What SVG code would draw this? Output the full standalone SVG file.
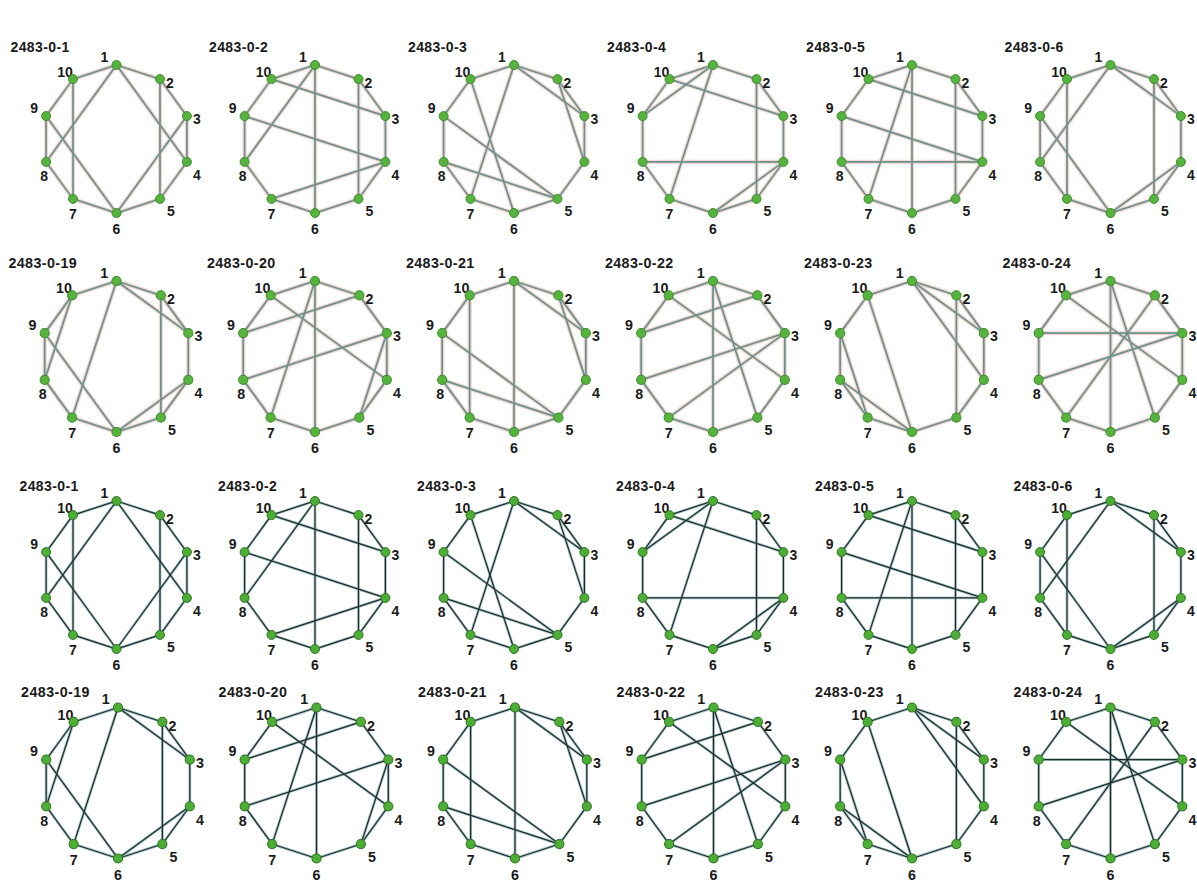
<svg xmlns="http://www.w3.org/2000/svg" xmlns:xlink="http://www.w3.org/1999/xlink" width="1197" height="884" viewBox="0 0 1197 884">
<style>
.tt{font:bold 14px "Liberation Sans",Arial,sans-serif;letter-spacing:.4px;fill:#1a1a1a}
.nd text{font:bold 14px "Liberation Sans",Arial,sans-serif;text-anchor:middle;fill:#1a1a1a}
.top .nd circle{fill:#56b43e;stroke:#3f8c2f;stroke-width:1}
.bot .nd circle{fill:#4cae35;stroke:#2f7424;stroke-width:1}
.cT{stroke:#6a9090;stroke-width:1.7;fill:none}
.hT{stroke:#f3d8cf;stroke-width:4.2;fill:none}
.cB{stroke:#1f2b2b;stroke-width:1.2;fill:none}
.hB{stroke:#a7c6c6;stroke-width:2.8;fill:none}
</style>
<defs>
<polygon id="ring" fill="none" points="0,-74 43.5,-59.9 70.4,-22.9 70.4,22.9 43.5,59.9 0,74 -43.5,59.9 -70.4,22.9 -70.4,-22.9 -43.5,-59.9"/>
</defs>
<rect width="1197" height="884" fill="#ffffff"/>

<!-- ===== TOP HALF ===== -->
<g class="top">
<g id="t1" transform="translate(116.5,139)">
<text class="tt" x="-106" y="-87">2483-0-1</text>
<use href="#t1-c" class="hT"/>
<g class="cT"><g id="t1-c"><use href="#ring"/><line x1="-43.5" y1="-59.9" x2="-43.5" y2="59.9"/><line x1="43.5" y1="-59.9" x2="43.5" y2="59.9"/><line x1="0" y1="-74" x2="-70.4" y2="22.9"/><line x1="0" y1="-74" x2="70.4" y2="22.9"/><line x1="-70.4" y1="-22.9" x2="0" y2="74"/><line x1="70.4" y1="-22.9" x2="0" y2="74"/></g></g>
<g id="t1-n1" class="nd"><text x="-12" y="-77">1</text><circle cx="0" cy="-74" r="4.5"/></g>
<g id="t1-n2" class="nd"><text x="53.5" y="-51">2</text><circle cx="43.5" cy="-59.9" r="4.5"/></g>
<g id="t1-n3" class="nd"><text x="80.4" y="-15">3</text><circle cx="70.4" cy="-22.9" r="4.5"/></g>
<g id="t1-n4" class="nd"><text x="80.4" y="41">4</text><circle cx="70.4" cy="22.9" r="4.5"/></g>
<g id="t1-n5" class="nd"><text x="54.5" y="77">5</text><circle cx="43.5" cy="59.9" r="4.5"/></g>
<g id="t1-n6" class="nd"><text x="0" y="95">6</text><circle cx="0" cy="74" r="4.5"/></g>
<g id="t1-n7" class="nd"><text x="-43.5" y="80">7</text><circle cx="-43.5" cy="59.9" r="4.5"/></g>
<g id="t1-n8" class="nd"><text x="-72.4" y="42">8</text><circle cx="-70.4" cy="22.9" r="4.5"/></g>
<g id="t1-n9" class="nd"><text x="-82.4" y="-26">9</text><circle cx="-70.4" cy="-22.9" r="4.5"/></g>
<g id="t1-n10" class="nd"><text x="-51.5" y="-62">10</text><circle cx="-43.5" cy="-59.9" r="4.5"/></g>
</g>

<g id="t2" transform="translate(315,139)">
<text class="tt" x="-106" y="-87">2483-0-2</text>
<use href="#t2-c" class="hT"/>
<g class="cT"><g id="t2-c"><use href="#ring"/><line x1="-43.5" y1="-59.9" x2="70.4" y2="-22.9"/><line x1="0" y1="-74" x2="-70.4" y2="22.9"/><line x1="0" y1="-74" x2="0" y2="74"/><line x1="43.5" y1="-59.9" x2="43.5" y2="59.9"/><line x1="-70.4" y1="-22.9" x2="70.4" y2="22.9"/><line x1="-43.5" y1="59.9" x2="70.4" y2="22.9"/></g></g>
<g id="t2-n1" class="nd"><text x="-12" y="-77">1</text><circle cx="0" cy="-74" r="4.5"/></g>
<g id="t2-n2" class="nd"><text x="53.5" y="-51">2</text><circle cx="43.5" cy="-59.9" r="4.5"/></g>
<g id="t2-n3" class="nd"><text x="80.4" y="-15">3</text><circle cx="70.4" cy="-22.9" r="4.5"/></g>
<g id="t2-n4" class="nd"><text x="80.4" y="41">4</text><circle cx="70.4" cy="22.9" r="4.5"/></g>
<g id="t2-n5" class="nd"><text x="54.5" y="77">5</text><circle cx="43.5" cy="59.9" r="4.5"/></g>
<g id="t2-n6" class="nd"><text x="0" y="95">6</text><circle cx="0" cy="74" r="4.5"/></g>
<g id="t2-n7" class="nd"><text x="-43.5" y="80">7</text><circle cx="-43.5" cy="59.9" r="4.5"/></g>
<g id="t2-n8" class="nd"><text x="-72.4" y="42">8</text><circle cx="-70.4" cy="22.9" r="4.5"/></g>
<g id="t2-n9" class="nd"><text x="-82.4" y="-26">9</text><circle cx="-70.4" cy="-22.9" r="4.5"/></g>
<g id="t2-n10" class="nd"><text x="-51.5" y="-62">10</text><circle cx="-43.5" cy="-59.9" r="4.5"/></g>
</g>

<g id="t3" transform="translate(514,139)">
<text class="tt" x="-106" y="-87">2483-0-3</text>
<use href="#t3-c" class="hT"/>
<g class="cT"><g id="t3-c"><use href="#ring"/><line x1="0" y1="-74" x2="70.4" y2="-22.9"/><line x1="43.5" y1="-59.9" x2="70.4" y2="22.9"/><line x1="0" y1="-74" x2="-43.5" y2="59.9"/><line x1="-43.5" y1="-59.9" x2="0" y2="74"/><line x1="-70.4" y1="-22.9" x2="43.5" y2="59.9"/><line x1="-70.4" y1="22.9" x2="43.5" y2="59.9"/></g></g>
<g id="t3-n1" class="nd"><text x="-12" y="-77">1</text><circle cx="0" cy="-74" r="4.5"/></g>
<g id="t3-n2" class="nd"><text x="53.5" y="-51">2</text><circle cx="43.5" cy="-59.9" r="4.5"/></g>
<g id="t3-n3" class="nd"><text x="80.4" y="-15">3</text><circle cx="70.4" cy="-22.9" r="4.5"/></g>
<g id="t3-n4" class="nd"><text x="80.4" y="41">4</text><circle cx="70.4" cy="22.9" r="4.5"/></g>
<g id="t3-n5" class="nd"><text x="54.5" y="77">5</text><circle cx="43.5" cy="59.9" r="4.5"/></g>
<g id="t3-n6" class="nd"><text x="0" y="95">6</text><circle cx="0" cy="74" r="4.5"/></g>
<g id="t3-n7" class="nd"><text x="-43.5" y="80">7</text><circle cx="-43.5" cy="59.9" r="4.5"/></g>
<g id="t3-n8" class="nd"><text x="-72.4" y="42">8</text><circle cx="-70.4" cy="22.9" r="4.5"/></g>
<g id="t3-n9" class="nd"><text x="-82.4" y="-26">9</text><circle cx="-70.4" cy="-22.9" r="4.5"/></g>
<g id="t3-n10" class="nd"><text x="-51.5" y="-62">10</text><circle cx="-43.5" cy="-59.9" r="4.5"/></g>
</g>

<g id="t4" transform="translate(713,139)">
<text class="tt" x="-106" y="-87">2483-0-4</text>
<use href="#t4-c" class="hT"/>
<g class="cT"><g id="t4-c"><use href="#ring"/><line x1="0" y1="-74" x2="-70.4" y2="-22.9"/><line x1="-43.5" y1="-59.9" x2="70.4" y2="-22.9"/><line x1="0" y1="-74" x2="-43.5" y2="59.9"/><line x1="43.5" y1="-59.9" x2="43.5" y2="59.9"/><line x1="-70.4" y1="22.9" x2="70.4" y2="22.9"/><line x1="0" y1="74" x2="70.4" y2="22.9"/></g></g>
<g id="t4-n1" class="nd"><text x="-12" y="-77">1</text><circle cx="0" cy="-74" r="4.5"/></g>
<g id="t4-n2" class="nd"><text x="53.5" y="-51">2</text><circle cx="43.5" cy="-59.9" r="4.5"/></g>
<g id="t4-n3" class="nd"><text x="80.4" y="-15">3</text><circle cx="70.4" cy="-22.9" r="4.5"/></g>
<g id="t4-n4" class="nd"><text x="80.4" y="41">4</text><circle cx="70.4" cy="22.9" r="4.5"/></g>
<g id="t4-n5" class="nd"><text x="54.5" y="77">5</text><circle cx="43.5" cy="59.9" r="4.5"/></g>
<g id="t4-n6" class="nd"><text x="0" y="95">6</text><circle cx="0" cy="74" r="4.5"/></g>
<g id="t4-n7" class="nd"><text x="-43.5" y="80">7</text><circle cx="-43.5" cy="59.9" r="4.5"/></g>
<g id="t4-n8" class="nd"><text x="-72.4" y="42">8</text><circle cx="-70.4" cy="22.9" r="4.5"/></g>
<g id="t4-n9" class="nd"><text x="-82.4" y="-26">9</text><circle cx="-70.4" cy="-22.9" r="4.5"/></g>
<g id="t4-n10" class="nd"><text x="-51.5" y="-62">10</text><circle cx="-43.5" cy="-59.9" r="4.5"/></g>
</g>

<g id="t5" transform="translate(912,139)">
<text class="tt" x="-106" y="-87">2483-0-5</text>
<use href="#t5-c" class="hT"/>
<g class="cT"><g id="t5-c"><use href="#ring"/><line x1="-43.5" y1="-59.9" x2="70.4" y2="-22.9"/><line x1="-70.4" y1="-22.9" x2="70.4" y2="22.9"/><line x1="-70.4" y1="22.9" x2="70.4" y2="22.9"/><line x1="0" y1="-74" x2="-43.5" y2="59.9"/><line x1="0" y1="-74" x2="0" y2="74"/><line x1="43.5" y1="-59.9" x2="43.5" y2="59.9"/></g></g>
<g id="t5-n1" class="nd"><text x="-12" y="-77">1</text><circle cx="0" cy="-74" r="4.5"/></g>
<g id="t5-n2" class="nd"><text x="53.5" y="-51">2</text><circle cx="43.5" cy="-59.9" r="4.5"/></g>
<g id="t5-n3" class="nd"><text x="80.4" y="-15">3</text><circle cx="70.4" cy="-22.9" r="4.5"/></g>
<g id="t5-n4" class="nd"><text x="80.4" y="41">4</text><circle cx="70.4" cy="22.9" r="4.5"/></g>
<g id="t5-n5" class="nd"><text x="54.5" y="77">5</text><circle cx="43.5" cy="59.9" r="4.5"/></g>
<g id="t5-n6" class="nd"><text x="0" y="95">6</text><circle cx="0" cy="74" r="4.5"/></g>
<g id="t5-n7" class="nd"><text x="-43.5" y="80">7</text><circle cx="-43.5" cy="59.9" r="4.5"/></g>
<g id="t5-n8" class="nd"><text x="-72.4" y="42">8</text><circle cx="-70.4" cy="22.9" r="4.5"/></g>
<g id="t5-n9" class="nd"><text x="-82.4" y="-26">9</text><circle cx="-70.4" cy="-22.9" r="4.5"/></g>
<g id="t5-n10" class="nd"><text x="-51.5" y="-62">10</text><circle cx="-43.5" cy="-59.9" r="4.5"/></g>
</g>

<g id="t6" transform="translate(1110.5,139)">
<text class="tt" x="-106" y="-87">2483-0-6</text>
<use href="#t6-c" class="hT"/>
<g class="cT"><g id="t6-c"><use href="#ring"/><line x1="0" y1="-74" x2="70.4" y2="-22.9"/><line x1="-43.5" y1="-59.9" x2="-43.5" y2="59.9"/><line x1="0" y1="-74" x2="-70.4" y2="22.9"/><line x1="-70.4" y1="-22.9" x2="0" y2="74"/><line x1="43.5" y1="-59.9" x2="43.5" y2="59.9"/><line x1="0" y1="74" x2="70.4" y2="22.9"/></g></g>
<g id="t6-n1" class="nd"><text x="-12" y="-77">1</text><circle cx="0" cy="-74" r="4.5"/></g>
<g id="t6-n2" class="nd"><text x="53.5" y="-51">2</text><circle cx="43.5" cy="-59.9" r="4.5"/></g>
<g id="t6-n3" class="nd"><text x="80.4" y="-15">3</text><circle cx="70.4" cy="-22.9" r="4.5"/></g>
<g id="t6-n4" class="nd"><text x="80.4" y="41">4</text><circle cx="70.4" cy="22.9" r="4.5"/></g>
<g id="t6-n5" class="nd"><text x="54.5" y="77">5</text><circle cx="43.5" cy="59.9" r="4.5"/></g>
<g id="t6-n6" class="nd"><text x="0" y="95">6</text><circle cx="0" cy="74" r="4.5"/></g>
<g id="t6-n7" class="nd"><text x="-43.5" y="80">7</text><circle cx="-43.5" cy="59.9" r="4.5"/></g>
<g id="t6-n8" class="nd"><text x="-72.4" y="42">8</text><circle cx="-70.4" cy="22.9" r="4.5"/></g>
<g id="t6-n9" class="nd"><text x="-82.4" y="-26">9</text><circle cx="-70.4" cy="-22.9" r="4.5"/></g>
<g id="t6-n10" class="nd"><text x="-51.5" y="-62">10</text><circle cx="-43.5" cy="-59.9" r="4.5"/></g>
</g>

<g id="t7" transform="translate(116.5,356.5) scale(1.02)">
<text class="tt" x="-106" y="-87">2483-0-19</text>
<use href="#t7-c" class="hT"/>
<g class="cT"><g id="t7-c"><use href="#ring"/><line x1="0" y1="-74" x2="70.4" y2="-22.9"/><line x1="0" y1="-74" x2="-43.5" y2="59.9"/><line x1="-43.5" y1="-59.9" x2="-70.4" y2="22.9"/><line x1="-70.4" y1="-22.9" x2="0" y2="74"/><line x1="43.5" y1="-59.9" x2="43.5" y2="59.9"/><line x1="0" y1="74" x2="70.4" y2="22.9"/></g></g>
<g id="t7-n1" class="nd"><text x="-12" y="-77">1</text><circle cx="0" cy="-74" r="4.5"/></g>
<g id="t7-n2" class="nd"><text x="53.5" y="-51">2</text><circle cx="43.5" cy="-59.9" r="4.5"/></g>
<g id="t7-n3" class="nd"><text x="80.4" y="-15">3</text><circle cx="70.4" cy="-22.9" r="4.5"/></g>
<g id="t7-n4" class="nd"><text x="80.4" y="41">4</text><circle cx="70.4" cy="22.9" r="4.5"/></g>
<g id="t7-n5" class="nd"><text x="54.5" y="77">5</text><circle cx="43.5" cy="59.9" r="4.5"/></g>
<g id="t7-n6" class="nd"><text x="0" y="95">6</text><circle cx="0" cy="74" r="4.5"/></g>
<g id="t7-n7" class="nd"><text x="-43.5" y="80">7</text><circle cx="-43.5" cy="59.9" r="4.5"/></g>
<g id="t7-n8" class="nd"><text x="-72.4" y="42">8</text><circle cx="-70.4" cy="22.9" r="4.5"/></g>
<g id="t7-n9" class="nd"><text x="-82.4" y="-26">9</text><circle cx="-70.4" cy="-22.9" r="4.5"/></g>
<g id="t7-n10" class="nd"><text x="-51.5" y="-62">10</text><circle cx="-43.5" cy="-59.9" r="4.5"/></g>
</g>

<g id="t8" transform="translate(315,356.5) scale(1.02)">
<text class="tt" x="-106" y="-87">2483-0-20</text>
<use href="#t8-c" class="hT"/>
<g class="cT"><g id="t8-c"><use href="#ring"/><line x1="-70.4" y1="-22.9" x2="43.5" y2="-59.9"/><line x1="-43.5" y1="-59.9" x2="70.4" y2="22.9"/><line x1="0" y1="-74" x2="-43.5" y2="59.9"/><line x1="0" y1="-74" x2="0" y2="74"/><line x1="-70.4" y1="22.9" x2="70.4" y2="-22.9"/><line x1="70.4" y1="-22.9" x2="43.5" y2="59.9"/></g></g>
<g id="t8-n1" class="nd"><text x="-12" y="-77">1</text><circle cx="0" cy="-74" r="4.5"/></g>
<g id="t8-n2" class="nd"><text x="53.5" y="-51">2</text><circle cx="43.5" cy="-59.9" r="4.5"/></g>
<g id="t8-n3" class="nd"><text x="80.4" y="-15">3</text><circle cx="70.4" cy="-22.9" r="4.5"/></g>
<g id="t8-n4" class="nd"><text x="80.4" y="41">4</text><circle cx="70.4" cy="22.9" r="4.5"/></g>
<g id="t8-n5" class="nd"><text x="54.5" y="77">5</text><circle cx="43.5" cy="59.9" r="4.5"/></g>
<g id="t8-n6" class="nd"><text x="0" y="95">6</text><circle cx="0" cy="74" r="4.5"/></g>
<g id="t8-n7" class="nd"><text x="-43.5" y="80">7</text><circle cx="-43.5" cy="59.9" r="4.5"/></g>
<g id="t8-n8" class="nd"><text x="-72.4" y="42">8</text><circle cx="-70.4" cy="22.9" r="4.5"/></g>
<g id="t8-n9" class="nd"><text x="-82.4" y="-26">9</text><circle cx="-70.4" cy="-22.9" r="4.5"/></g>
<g id="t8-n10" class="nd"><text x="-51.5" y="-62">10</text><circle cx="-43.5" cy="-59.9" r="4.5"/></g>
</g>

<g id="t9" transform="translate(514,356.5) scale(1.02)">
<text class="tt" x="-106" y="-87">2483-0-21</text>
<use href="#t9-c" class="hT"/>
<g class="cT"><g id="t9-c"><use href="#ring"/><line x1="0" y1="-74" x2="70.4" y2="-22.9"/><line x1="43.5" y1="-59.9" x2="70.4" y2="22.9"/><line x1="-43.5" y1="-59.9" x2="-43.5" y2="59.9"/><line x1="0" y1="-74" x2="0" y2="74"/><line x1="-70.4" y1="-22.9" x2="43.5" y2="59.9"/><line x1="-70.4" y1="22.9" x2="43.5" y2="59.9"/></g></g>
<g id="t9-n1" class="nd"><text x="-12" y="-77">1</text><circle cx="0" cy="-74" r="4.5"/></g>
<g id="t9-n2" class="nd"><text x="53.5" y="-51">2</text><circle cx="43.5" cy="-59.9" r="4.5"/></g>
<g id="t9-n3" class="nd"><text x="80.4" y="-15">3</text><circle cx="70.4" cy="-22.9" r="4.5"/></g>
<g id="t9-n4" class="nd"><text x="80.4" y="41">4</text><circle cx="70.4" cy="22.9" r="4.5"/></g>
<g id="t9-n5" class="nd"><text x="54.5" y="77">5</text><circle cx="43.5" cy="59.9" r="4.5"/></g>
<g id="t9-n6" class="nd"><text x="0" y="95">6</text><circle cx="0" cy="74" r="4.5"/></g>
<g id="t9-n7" class="nd"><text x="-43.5" y="80">7</text><circle cx="-43.5" cy="59.9" r="4.5"/></g>
<g id="t9-n8" class="nd"><text x="-72.4" y="42">8</text><circle cx="-70.4" cy="22.9" r="4.5"/></g>
<g id="t9-n9" class="nd"><text x="-82.4" y="-26">9</text><circle cx="-70.4" cy="-22.9" r="4.5"/></g>
<g id="t9-n10" class="nd"><text x="-51.5" y="-62">10</text><circle cx="-43.5" cy="-59.9" r="4.5"/></g>
</g>

<g id="t10" transform="translate(713,356.5) scale(1.02)">
<text class="tt" x="-106" y="-87">2483-0-22</text>
<use href="#t10-c" class="hT"/>
<g class="cT"><g id="t10-c"><use href="#ring"/><line x1="-70.4" y1="-22.9" x2="43.5" y2="-59.9"/><line x1="-43.5" y1="-59.9" x2="70.4" y2="22.9"/><line x1="0" y1="-74" x2="0" y2="74"/><line x1="0" y1="-74" x2="43.5" y2="59.9"/><line x1="-70.4" y1="22.9" x2="70.4" y2="-22.9"/><line x1="-43.5" y1="59.9" x2="70.4" y2="-22.9"/></g></g>
<g id="t10-n1" class="nd"><text x="-12" y="-77">1</text><circle cx="0" cy="-74" r="4.5"/></g>
<g id="t10-n2" class="nd"><text x="53.5" y="-51">2</text><circle cx="43.5" cy="-59.9" r="4.5"/></g>
<g id="t10-n3" class="nd"><text x="80.4" y="-15">3</text><circle cx="70.4" cy="-22.9" r="4.5"/></g>
<g id="t10-n4" class="nd"><text x="80.4" y="41">4</text><circle cx="70.4" cy="22.9" r="4.5"/></g>
<g id="t10-n5" class="nd"><text x="54.5" y="77">5</text><circle cx="43.5" cy="59.9" r="4.5"/></g>
<g id="t10-n6" class="nd"><text x="0" y="95">6</text><circle cx="0" cy="74" r="4.5"/></g>
<g id="t10-n7" class="nd"><text x="-43.5" y="80">7</text><circle cx="-43.5" cy="59.9" r="4.5"/></g>
<g id="t10-n8" class="nd"><text x="-72.4" y="42">8</text><circle cx="-70.4" cy="22.9" r="4.5"/></g>
<g id="t10-n9" class="nd"><text x="-82.4" y="-26">9</text><circle cx="-70.4" cy="-22.9" r="4.5"/></g>
<g id="t10-n10" class="nd"><text x="-51.5" y="-62">10</text><circle cx="-43.5" cy="-59.9" r="4.5"/></g>
</g>

<g id="t11" transform="translate(912,356.5) scale(1.02)">
<text class="tt" x="-106" y="-87">2483-0-23</text>
<use href="#t11-c" class="hT"/>
<g class="cT"><g id="t11-c"><use href="#ring"/><line x1="0" y1="-74" x2="70.4" y2="-22.9"/><line x1="0" y1="-74" x2="70.4" y2="22.9"/><line x1="43.5" y1="-59.9" x2="43.5" y2="59.9"/><line x1="-43.5" y1="-59.9" x2="0" y2="74"/><line x1="-70.4" y1="-22.9" x2="-43.5" y2="59.9"/><line x1="-70.4" y1="22.9" x2="0" y2="74"/></g></g>
<g id="t11-n1" class="nd"><text x="-12" y="-77">1</text><circle cx="0" cy="-74" r="4.5"/></g>
<g id="t11-n2" class="nd"><text x="53.5" y="-51">2</text><circle cx="43.5" cy="-59.9" r="4.5"/></g>
<g id="t11-n3" class="nd"><text x="80.4" y="-15">3</text><circle cx="70.4" cy="-22.9" r="4.5"/></g>
<g id="t11-n4" class="nd"><text x="80.4" y="41">4</text><circle cx="70.4" cy="22.9" r="4.5"/></g>
<g id="t11-n5" class="nd"><text x="54.5" y="77">5</text><circle cx="43.5" cy="59.9" r="4.5"/></g>
<g id="t11-n6" class="nd"><text x="0" y="95">6</text><circle cx="0" cy="74" r="4.5"/></g>
<g id="t11-n7" class="nd"><text x="-43.5" y="80">7</text><circle cx="-43.5" cy="59.9" r="4.5"/></g>
<g id="t11-n8" class="nd"><text x="-72.4" y="42">8</text><circle cx="-70.4" cy="22.9" r="4.5"/></g>
<g id="t11-n9" class="nd"><text x="-82.4" y="-26">9</text><circle cx="-70.4" cy="-22.9" r="4.5"/></g>
<g id="t11-n10" class="nd"><text x="-51.5" y="-62">10</text><circle cx="-43.5" cy="-59.9" r="4.5"/></g>
</g>

<g id="t12" transform="translate(1110.5,356.5) scale(1.02)">
<text class="tt" x="-106" y="-87">2483-0-24</text>
<use href="#t12-c" class="hT"/>
<g class="cT"><g id="t12-c"><use href="#ring"/><line x1="0" y1="-74" x2="0" y2="74"/><line x1="0" y1="-74" x2="43.5" y2="59.9"/><line x1="-43.5" y1="-59.9" x2="70.4" y2="22.9"/><line x1="-70.4" y1="-22.9" x2="70.4" y2="-22.9"/><line x1="-70.4" y1="22.9" x2="70.4" y2="-22.9"/><line x1="-43.5" y1="59.9" x2="43.5" y2="-59.9"/></g></g>
<g id="t12-n1" class="nd"><text x="-12" y="-77">1</text><circle cx="0" cy="-74" r="4.5"/></g>
<g id="t12-n2" class="nd"><text x="53.5" y="-51">2</text><circle cx="43.5" cy="-59.9" r="4.5"/></g>
<g id="t12-n3" class="nd"><text x="80.4" y="-15">3</text><circle cx="70.4" cy="-22.9" r="4.5"/></g>
<g id="t12-n4" class="nd"><text x="80.4" y="41">4</text><circle cx="70.4" cy="22.9" r="4.5"/></g>
<g id="t12-n5" class="nd"><text x="54.5" y="77">5</text><circle cx="43.5" cy="59.9" r="4.5"/></g>
<g id="t12-n6" class="nd"><text x="0" y="95">6</text><circle cx="0" cy="74" r="4.5"/></g>
<g id="t12-n7" class="nd"><text x="-43.5" y="80">7</text><circle cx="-43.5" cy="59.9" r="4.5"/></g>
<g id="t12-n8" class="nd"><text x="-72.4" y="42">8</text><circle cx="-70.4" cy="22.9" r="4.5"/></g>
<g id="t12-n9" class="nd"><text x="-82.4" y="-26">9</text><circle cx="-70.4" cy="-22.9" r="4.5"/></g>
<g id="t12-n10" class="nd"><text x="-51.5" y="-62">10</text><circle cx="-43.5" cy="-59.9" r="4.5"/></g>
</g>
</g>

<!-- ===== BOTTOM HALF ===== -->
<g class="bot">
<g id="b1" transform="translate(116.5,575)">
<text class="tt" x="-97" y="-84">2483-0-1</text>
<use href="#b1-c" class="hB"/>
<g class="cB"><g id="b1-c"><use href="#ring"/><line x1="-43.5" y1="-59.9" x2="-43.5" y2="59.9"/><line x1="43.5" y1="-59.9" x2="43.5" y2="59.9"/><line x1="0" y1="-74" x2="-70.4" y2="22.9"/><line x1="0" y1="-74" x2="70.4" y2="22.9"/><line x1="-70.4" y1="-22.9" x2="0" y2="74"/><line x1="70.4" y1="-22.9" x2="0" y2="74"/></g></g>
<g id="b1-n1" class="nd"><text x="-12" y="-77">1</text><circle cx="0" cy="-74" r="4.5"/></g>
<g id="b1-n2" class="nd"><text x="53.5" y="-51">2</text><circle cx="43.5" cy="-59.9" r="4.5"/></g>
<g id="b1-n3" class="nd"><text x="80.4" y="-15">3</text><circle cx="70.4" cy="-22.9" r="4.5"/></g>
<g id="b1-n4" class="nd"><text x="80.4" y="41">4</text><circle cx="70.4" cy="22.9" r="4.5"/></g>
<g id="b1-n5" class="nd"><text x="54.5" y="77">5</text><circle cx="43.5" cy="59.9" r="4.5"/></g>
<g id="b1-n6" class="nd"><text x="0" y="95">6</text><circle cx="0" cy="74" r="4.5"/></g>
<g id="b1-n7" class="nd"><text x="-43.5" y="80">7</text><circle cx="-43.5" cy="59.9" r="4.5"/></g>
<g id="b1-n8" class="nd"><text x="-72.4" y="42">8</text><circle cx="-70.4" cy="22.9" r="4.5"/></g>
<g id="b1-n9" class="nd"><text x="-82.4" y="-26">9</text><circle cx="-70.4" cy="-22.9" r="4.5"/></g>
<g id="b1-n10" class="nd"><text x="-51.5" y="-62">10</text><circle cx="-43.5" cy="-59.9" r="4.5"/></g>
</g>

<g id="b2" transform="translate(315,575)">
<text class="tt" x="-97" y="-84">2483-0-2</text>
<use href="#b2-c" class="hB"/>
<g class="cB"><g id="b2-c"><use href="#ring"/><line x1="-43.5" y1="-59.9" x2="70.4" y2="-22.9"/><line x1="0" y1="-74" x2="-70.4" y2="22.9"/><line x1="0" y1="-74" x2="0" y2="74"/><line x1="43.5" y1="-59.9" x2="43.5" y2="59.9"/><line x1="-70.4" y1="-22.9" x2="70.4" y2="22.9"/><line x1="-43.5" y1="59.9" x2="70.4" y2="22.9"/></g></g>
<g id="b2-n1" class="nd"><text x="-12" y="-77">1</text><circle cx="0" cy="-74" r="4.5"/></g>
<g id="b2-n2" class="nd"><text x="53.5" y="-51">2</text><circle cx="43.5" cy="-59.9" r="4.5"/></g>
<g id="b2-n3" class="nd"><text x="80.4" y="-15">3</text><circle cx="70.4" cy="-22.9" r="4.5"/></g>
<g id="b2-n4" class="nd"><text x="80.4" y="41">4</text><circle cx="70.4" cy="22.9" r="4.5"/></g>
<g id="b2-n5" class="nd"><text x="54.5" y="77">5</text><circle cx="43.5" cy="59.9" r="4.5"/></g>
<g id="b2-n6" class="nd"><text x="0" y="95">6</text><circle cx="0" cy="74" r="4.5"/></g>
<g id="b2-n7" class="nd"><text x="-43.5" y="80">7</text><circle cx="-43.5" cy="59.9" r="4.5"/></g>
<g id="b2-n8" class="nd"><text x="-72.4" y="42">8</text><circle cx="-70.4" cy="22.9" r="4.5"/></g>
<g id="b2-n9" class="nd"><text x="-82.4" y="-26">9</text><circle cx="-70.4" cy="-22.9" r="4.5"/></g>
<g id="b2-n10" class="nd"><text x="-51.5" y="-62">10</text><circle cx="-43.5" cy="-59.9" r="4.5"/></g>
</g>

<g id="b3" transform="translate(514,575)">
<text class="tt" x="-97" y="-84">2483-0-3</text>
<use href="#b3-c" class="hB"/>
<g class="cB"><g id="b3-c"><use href="#ring"/><line x1="0" y1="-74" x2="70.4" y2="-22.9"/><line x1="43.5" y1="-59.9" x2="70.4" y2="22.9"/><line x1="0" y1="-74" x2="-43.5" y2="59.9"/><line x1="-43.5" y1="-59.9" x2="0" y2="74"/><line x1="-70.4" y1="-22.9" x2="43.5" y2="59.9"/><line x1="-70.4" y1="22.9" x2="43.5" y2="59.9"/></g></g>
<g id="b3-n1" class="nd"><text x="-12" y="-77">1</text><circle cx="0" cy="-74" r="4.5"/></g>
<g id="b3-n2" class="nd"><text x="53.5" y="-51">2</text><circle cx="43.5" cy="-59.9" r="4.5"/></g>
<g id="b3-n3" class="nd"><text x="80.4" y="-15">3</text><circle cx="70.4" cy="-22.9" r="4.5"/></g>
<g id="b3-n4" class="nd"><text x="80.4" y="41">4</text><circle cx="70.4" cy="22.9" r="4.5"/></g>
<g id="b3-n5" class="nd"><text x="54.5" y="77">5</text><circle cx="43.5" cy="59.9" r="4.5"/></g>
<g id="b3-n6" class="nd"><text x="0" y="95">6</text><circle cx="0" cy="74" r="4.5"/></g>
<g id="b3-n7" class="nd"><text x="-43.5" y="80">7</text><circle cx="-43.5" cy="59.9" r="4.5"/></g>
<g id="b3-n8" class="nd"><text x="-72.4" y="42">8</text><circle cx="-70.4" cy="22.9" r="4.5"/></g>
<g id="b3-n9" class="nd"><text x="-82.4" y="-26">9</text><circle cx="-70.4" cy="-22.9" r="4.5"/></g>
<g id="b3-n10" class="nd"><text x="-51.5" y="-62">10</text><circle cx="-43.5" cy="-59.9" r="4.5"/></g>
</g>

<g id="b4" transform="translate(713,575)">
<text class="tt" x="-97" y="-84">2483-0-4</text>
<use href="#b4-c" class="hB"/>
<g class="cB"><g id="b4-c"><use href="#ring"/><line x1="0" y1="-74" x2="-70.4" y2="-22.9"/><line x1="-43.5" y1="-59.9" x2="70.4" y2="-22.9"/><line x1="0" y1="-74" x2="-43.5" y2="59.9"/><line x1="43.5" y1="-59.9" x2="43.5" y2="59.9"/><line x1="-70.4" y1="22.9" x2="70.4" y2="22.9"/><line x1="0" y1="74" x2="70.4" y2="22.9"/></g></g>
<g id="b4-n1" class="nd"><text x="-12" y="-77">1</text><circle cx="0" cy="-74" r="4.5"/></g>
<g id="b4-n2" class="nd"><text x="53.5" y="-51">2</text><circle cx="43.5" cy="-59.9" r="4.5"/></g>
<g id="b4-n3" class="nd"><text x="80.4" y="-15">3</text><circle cx="70.4" cy="-22.9" r="4.5"/></g>
<g id="b4-n4" class="nd"><text x="80.4" y="41">4</text><circle cx="70.4" cy="22.9" r="4.5"/></g>
<g id="b4-n5" class="nd"><text x="54.5" y="77">5</text><circle cx="43.5" cy="59.9" r="4.5"/></g>
<g id="b4-n6" class="nd"><text x="0" y="95">6</text><circle cx="0" cy="74" r="4.5"/></g>
<g id="b4-n7" class="nd"><text x="-43.5" y="80">7</text><circle cx="-43.5" cy="59.9" r="4.5"/></g>
<g id="b4-n8" class="nd"><text x="-72.4" y="42">8</text><circle cx="-70.4" cy="22.9" r="4.5"/></g>
<g id="b4-n9" class="nd"><text x="-82.4" y="-26">9</text><circle cx="-70.4" cy="-22.9" r="4.5"/></g>
<g id="b4-n10" class="nd"><text x="-51.5" y="-62">10</text><circle cx="-43.5" cy="-59.9" r="4.5"/></g>
</g>

<g id="b5" transform="translate(912,575)">
<text class="tt" x="-97" y="-84">2483-0-5</text>
<use href="#b5-c" class="hB"/>
<g class="cB"><g id="b5-c"><use href="#ring"/><line x1="-43.5" y1="-59.9" x2="70.4" y2="-22.9"/><line x1="-70.4" y1="-22.9" x2="70.4" y2="22.9"/><line x1="-70.4" y1="22.9" x2="70.4" y2="22.9"/><line x1="0" y1="-74" x2="-43.5" y2="59.9"/><line x1="0" y1="-74" x2="0" y2="74"/><line x1="43.5" y1="-59.9" x2="43.5" y2="59.9"/></g></g>
<g id="b5-n1" class="nd"><text x="-12" y="-77">1</text><circle cx="0" cy="-74" r="4.5"/></g>
<g id="b5-n2" class="nd"><text x="53.5" y="-51">2</text><circle cx="43.5" cy="-59.9" r="4.5"/></g>
<g id="b5-n3" class="nd"><text x="80.4" y="-15">3</text><circle cx="70.4" cy="-22.9" r="4.5"/></g>
<g id="b5-n4" class="nd"><text x="80.4" y="41">4</text><circle cx="70.4" cy="22.9" r="4.5"/></g>
<g id="b5-n5" class="nd"><text x="54.5" y="77">5</text><circle cx="43.5" cy="59.9" r="4.5"/></g>
<g id="b5-n6" class="nd"><text x="0" y="95">6</text><circle cx="0" cy="74" r="4.5"/></g>
<g id="b5-n7" class="nd"><text x="-43.5" y="80">7</text><circle cx="-43.5" cy="59.9" r="4.5"/></g>
<g id="b5-n8" class="nd"><text x="-72.4" y="42">8</text><circle cx="-70.4" cy="22.9" r="4.5"/></g>
<g id="b5-n9" class="nd"><text x="-82.4" y="-26">9</text><circle cx="-70.4" cy="-22.9" r="4.5"/></g>
<g id="b5-n10" class="nd"><text x="-51.5" y="-62">10</text><circle cx="-43.5" cy="-59.9" r="4.5"/></g>
</g>

<g id="b6" transform="translate(1110.5,575)">
<text class="tt" x="-97" y="-84">2483-0-6</text>
<use href="#b6-c" class="hB"/>
<g class="cB"><g id="b6-c"><use href="#ring"/><line x1="0" y1="-74" x2="70.4" y2="-22.9"/><line x1="-43.5" y1="-59.9" x2="-43.5" y2="59.9"/><line x1="0" y1="-74" x2="-70.4" y2="22.9"/><line x1="-70.4" y1="-22.9" x2="0" y2="74"/><line x1="43.5" y1="-59.9" x2="43.5" y2="59.9"/><line x1="0" y1="74" x2="70.4" y2="22.9"/></g></g>
<g id="b6-n1" class="nd"><text x="-12" y="-77">1</text><circle cx="0" cy="-74" r="4.5"/></g>
<g id="b6-n2" class="nd"><text x="53.5" y="-51">2</text><circle cx="43.5" cy="-59.9" r="4.5"/></g>
<g id="b6-n3" class="nd"><text x="80.4" y="-15">3</text><circle cx="70.4" cy="-22.9" r="4.5"/></g>
<g id="b6-n4" class="nd"><text x="80.4" y="41">4</text><circle cx="70.4" cy="22.9" r="4.5"/></g>
<g id="b6-n5" class="nd"><text x="54.5" y="77">5</text><circle cx="43.5" cy="59.9" r="4.5"/></g>
<g id="b6-n6" class="nd"><text x="0" y="95">6</text><circle cx="0" cy="74" r="4.5"/></g>
<g id="b6-n7" class="nd"><text x="-43.5" y="80">7</text><circle cx="-43.5" cy="59.9" r="4.5"/></g>
<g id="b6-n8" class="nd"><text x="-72.4" y="42">8</text><circle cx="-70.4" cy="22.9" r="4.5"/></g>
<g id="b6-n9" class="nd"><text x="-82.4" y="-26">9</text><circle cx="-70.4" cy="-22.9" r="4.5"/></g>
<g id="b6-n10" class="nd"><text x="-51.5" y="-62">10</text><circle cx="-43.5" cy="-59.9" r="4.5"/></g>
</g>

<g id="b7" transform="translate(118,783) scale(1.02)">
<text class="tt" x="-95" y="-84">2483-0-19</text>
<use href="#b7-c" class="hB"/>
<g class="cB"><g id="b7-c"><use href="#ring"/><line x1="0" y1="-74" x2="70.4" y2="-22.9"/><line x1="0" y1="-74" x2="-43.5" y2="59.9"/><line x1="-43.5" y1="-59.9" x2="-70.4" y2="22.9"/><line x1="-70.4" y1="-22.9" x2="0" y2="74"/><line x1="43.5" y1="-59.9" x2="43.5" y2="59.9"/><line x1="0" y1="74" x2="70.4" y2="22.9"/></g></g>
<g id="b7-n1" class="nd"><text x="-12" y="-77">1</text><circle cx="0" cy="-74" r="4.5"/></g>
<g id="b7-n2" class="nd"><text x="53.5" y="-51">2</text><circle cx="43.5" cy="-59.9" r="4.5"/></g>
<g id="b7-n3" class="nd"><text x="80.4" y="-15">3</text><circle cx="70.4" cy="-22.9" r="4.5"/></g>
<g id="b7-n4" class="nd"><text x="80.4" y="41">4</text><circle cx="70.4" cy="22.9" r="4.5"/></g>
<g id="b7-n5" class="nd"><text x="54.5" y="77">5</text><circle cx="43.5" cy="59.9" r="4.5"/></g>
<g id="b7-n6" class="nd"><text x="0" y="95">6</text><circle cx="0" cy="74" r="4.5"/></g>
<g id="b7-n7" class="nd"><text x="-43.5" y="80">7</text><circle cx="-43.5" cy="59.9" r="4.5"/></g>
<g id="b7-n8" class="nd"><text x="-72.4" y="42">8</text><circle cx="-70.4" cy="22.9" r="4.5"/></g>
<g id="b7-n9" class="nd"><text x="-82.4" y="-26">9</text><circle cx="-70.4" cy="-22.9" r="4.5"/></g>
<g id="b7-n10" class="nd"><text x="-51.5" y="-62">10</text><circle cx="-43.5" cy="-59.9" r="4.5"/></g>
</g>

<g id="b8" transform="translate(316.5,783) scale(1.02)">
<text class="tt" x="-96" y="-84">2483-0-20</text>
<use href="#b8-c" class="hB"/>
<g class="cB"><g id="b8-c"><use href="#ring"/><line x1="-70.4" y1="-22.9" x2="43.5" y2="-59.9"/><line x1="-43.5" y1="-59.9" x2="70.4" y2="22.9"/><line x1="0" y1="-74" x2="-43.5" y2="59.9"/><line x1="0" y1="-74" x2="0" y2="74"/><line x1="-70.4" y1="22.9" x2="70.4" y2="-22.9"/><line x1="70.4" y1="-22.9" x2="43.5" y2="59.9"/></g></g>
<g id="b8-n1" class="nd"><text x="-12" y="-77">1</text><circle cx="0" cy="-74" r="4.5"/></g>
<g id="b8-n2" class="nd"><text x="53.5" y="-51">2</text><circle cx="43.5" cy="-59.9" r="4.5"/></g>
<g id="b8-n3" class="nd"><text x="80.4" y="-15">3</text><circle cx="70.4" cy="-22.9" r="4.5"/></g>
<g id="b8-n4" class="nd"><text x="80.4" y="41">4</text><circle cx="70.4" cy="22.9" r="4.5"/></g>
<g id="b8-n5" class="nd"><text x="54.5" y="77">5</text><circle cx="43.5" cy="59.9" r="4.5"/></g>
<g id="b8-n6" class="nd"><text x="0" y="95">6</text><circle cx="0" cy="74" r="4.5"/></g>
<g id="b8-n7" class="nd"><text x="-43.5" y="80">7</text><circle cx="-43.5" cy="59.9" r="4.5"/></g>
<g id="b8-n8" class="nd"><text x="-72.4" y="42">8</text><circle cx="-70.4" cy="22.9" r="4.5"/></g>
<g id="b8-n9" class="nd"><text x="-82.4" y="-26">9</text><circle cx="-70.4" cy="-22.9" r="4.5"/></g>
<g id="b8-n10" class="nd"><text x="-51.5" y="-62">10</text><circle cx="-43.5" cy="-59.9" r="4.5"/></g>
</g>

<g id="b9" transform="translate(515,783) scale(1.02)">
<text class="tt" x="-95" y="-84">2483-0-21</text>
<use href="#b9-c" class="hB"/>
<g class="cB"><g id="b9-c"><use href="#ring"/><line x1="0" y1="-74" x2="70.4" y2="-22.9"/><line x1="43.5" y1="-59.9" x2="70.4" y2="22.9"/><line x1="-43.5" y1="-59.9" x2="-43.5" y2="59.9"/><line x1="0" y1="-74" x2="0" y2="74"/><line x1="-70.4" y1="-22.9" x2="43.5" y2="59.9"/><line x1="-70.4" y1="22.9" x2="43.5" y2="59.9"/></g></g>
<g id="b9-n1" class="nd"><text x="-12" y="-77">1</text><circle cx="0" cy="-74" r="4.5"/></g>
<g id="b9-n2" class="nd"><text x="53.5" y="-51">2</text><circle cx="43.5" cy="-59.9" r="4.5"/></g>
<g id="b9-n3" class="nd"><text x="80.4" y="-15">3</text><circle cx="70.4" cy="-22.9" r="4.5"/></g>
<g id="b9-n4" class="nd"><text x="80.4" y="41">4</text><circle cx="70.4" cy="22.9" r="4.5"/></g>
<g id="b9-n5" class="nd"><text x="54.5" y="77">5</text><circle cx="43.5" cy="59.9" r="4.5"/></g>
<g id="b9-n6" class="nd"><text x="0" y="95">6</text><circle cx="0" cy="74" r="4.5"/></g>
<g id="b9-n7" class="nd"><text x="-43.5" y="80">7</text><circle cx="-43.5" cy="59.9" r="4.5"/></g>
<g id="b9-n8" class="nd"><text x="-72.4" y="42">8</text><circle cx="-70.4" cy="22.9" r="4.5"/></g>
<g id="b9-n9" class="nd"><text x="-82.4" y="-26">9</text><circle cx="-70.4" cy="-22.9" r="4.5"/></g>
<g id="b9-n10" class="nd"><text x="-51.5" y="-62">10</text><circle cx="-43.5" cy="-59.9" r="4.5"/></g>
</g>

<g id="b10" transform="translate(713.5,783) scale(1.02)">
<text class="tt" x="-95" y="-84">2483-0-22</text>
<use href="#b10-c" class="hB"/>
<g class="cB"><g id="b10-c"><use href="#ring"/><line x1="-70.4" y1="-22.9" x2="43.5" y2="-59.9"/><line x1="-43.5" y1="-59.9" x2="70.4" y2="22.9"/><line x1="0" y1="-74" x2="0" y2="74"/><line x1="0" y1="-74" x2="43.5" y2="59.9"/><line x1="-70.4" y1="22.9" x2="70.4" y2="-22.9"/><line x1="-43.5" y1="59.9" x2="70.4" y2="-22.9"/></g></g>
<g id="b10-n1" class="nd"><text x="-12" y="-77">1</text><circle cx="0" cy="-74" r="4.5"/></g>
<g id="b10-n2" class="nd"><text x="53.5" y="-51">2</text><circle cx="43.5" cy="-59.9" r="4.5"/></g>
<g id="b10-n3" class="nd"><text x="80.4" y="-15">3</text><circle cx="70.4" cy="-22.9" r="4.5"/></g>
<g id="b10-n4" class="nd"><text x="80.4" y="41">4</text><circle cx="70.4" cy="22.9" r="4.5"/></g>
<g id="b10-n5" class="nd"><text x="54.5" y="77">5</text><circle cx="43.5" cy="59.9" r="4.5"/></g>
<g id="b10-n6" class="nd"><text x="0" y="95">6</text><circle cx="0" cy="74" r="4.5"/></g>
<g id="b10-n7" class="nd"><text x="-43.5" y="80">7</text><circle cx="-43.5" cy="59.9" r="4.5"/></g>
<g id="b10-n8" class="nd"><text x="-72.4" y="42">8</text><circle cx="-70.4" cy="22.9" r="4.5"/></g>
<g id="b10-n9" class="nd"><text x="-82.4" y="-26">9</text><circle cx="-70.4" cy="-22.9" r="4.5"/></g>
<g id="b10-n10" class="nd"><text x="-51.5" y="-62">10</text><circle cx="-43.5" cy="-59.9" r="4.5"/></g>
</g>

<g id="b11" transform="translate(912,783) scale(1.02)">
<text class="tt" x="-95" y="-84">2483-0-23</text>
<use href="#b11-c" class="hB"/>
<g class="cB"><g id="b11-c"><use href="#ring"/><line x1="0" y1="-74" x2="70.4" y2="-22.9"/><line x1="0" y1="-74" x2="70.4" y2="22.9"/><line x1="43.5" y1="-59.9" x2="43.5" y2="59.9"/><line x1="-43.5" y1="-59.9" x2="0" y2="74"/><line x1="-70.4" y1="-22.9" x2="-43.5" y2="59.9"/><line x1="-70.4" y1="22.9" x2="0" y2="74"/></g></g>
<g id="b11-n1" class="nd"><text x="-12" y="-77">1</text><circle cx="0" cy="-74" r="4.5"/></g>
<g id="b11-n2" class="nd"><text x="53.5" y="-51">2</text><circle cx="43.5" cy="-59.9" r="4.5"/></g>
<g id="b11-n3" class="nd"><text x="80.4" y="-15">3</text><circle cx="70.4" cy="-22.9" r="4.5"/></g>
<g id="b11-n4" class="nd"><text x="80.4" y="41">4</text><circle cx="70.4" cy="22.9" r="4.5"/></g>
<g id="b11-n5" class="nd"><text x="54.5" y="77">5</text><circle cx="43.5" cy="59.9" r="4.5"/></g>
<g id="b11-n6" class="nd"><text x="0" y="95">6</text><circle cx="0" cy="74" r="4.5"/></g>
<g id="b11-n7" class="nd"><text x="-43.5" y="80">7</text><circle cx="-43.5" cy="59.9" r="4.5"/></g>
<g id="b11-n8" class="nd"><text x="-72.4" y="42">8</text><circle cx="-70.4" cy="22.9" r="4.5"/></g>
<g id="b11-n9" class="nd"><text x="-82.4" y="-26">9</text><circle cx="-70.4" cy="-22.9" r="4.5"/></g>
<g id="b11-n10" class="nd"><text x="-51.5" y="-62">10</text><circle cx="-43.5" cy="-59.9" r="4.5"/></g>
</g>

<g id="b12" transform="translate(1110.5,783) scale(1.02)">
<text class="tt" x="-95" y="-84">2483-0-24</text>
<use href="#b12-c" class="hB"/>
<g class="cB"><g id="b12-c"><use href="#ring"/><line x1="0" y1="-74" x2="0" y2="74"/><line x1="0" y1="-74" x2="43.5" y2="59.9"/><line x1="-43.5" y1="-59.9" x2="70.4" y2="22.9"/><line x1="-70.4" y1="-22.9" x2="70.4" y2="-22.9"/><line x1="-70.4" y1="22.9" x2="70.4" y2="-22.9"/><line x1="-43.5" y1="59.9" x2="43.5" y2="-59.9"/></g></g>
<g id="b12-n1" class="nd"><text x="-12" y="-77">1</text><circle cx="0" cy="-74" r="4.5"/></g>
<g id="b12-n2" class="nd"><text x="53.5" y="-51">2</text><circle cx="43.5" cy="-59.9" r="4.5"/></g>
<g id="b12-n3" class="nd"><text x="80.4" y="-15">3</text><circle cx="70.4" cy="-22.9" r="4.5"/></g>
<g id="b12-n4" class="nd"><text x="80.4" y="41">4</text><circle cx="70.4" cy="22.9" r="4.5"/></g>
<g id="b12-n5" class="nd"><text x="54.5" y="77">5</text><circle cx="43.5" cy="59.9" r="4.5"/></g>
<g id="b12-n6" class="nd"><text x="0" y="95">6</text><circle cx="0" cy="74" r="4.5"/></g>
<g id="b12-n7" class="nd"><text x="-43.5" y="80">7</text><circle cx="-43.5" cy="59.9" r="4.5"/></g>
<g id="b12-n8" class="nd"><text x="-72.4" y="42">8</text><circle cx="-70.4" cy="22.9" r="4.5"/></g>
<g id="b12-n9" class="nd"><text x="-82.4" y="-26">9</text><circle cx="-70.4" cy="-22.9" r="4.5"/></g>
<g id="b12-n10" class="nd"><text x="-51.5" y="-62">10</text><circle cx="-43.5" cy="-59.9" r="4.5"/></g>
</g>
</g>
</svg>
